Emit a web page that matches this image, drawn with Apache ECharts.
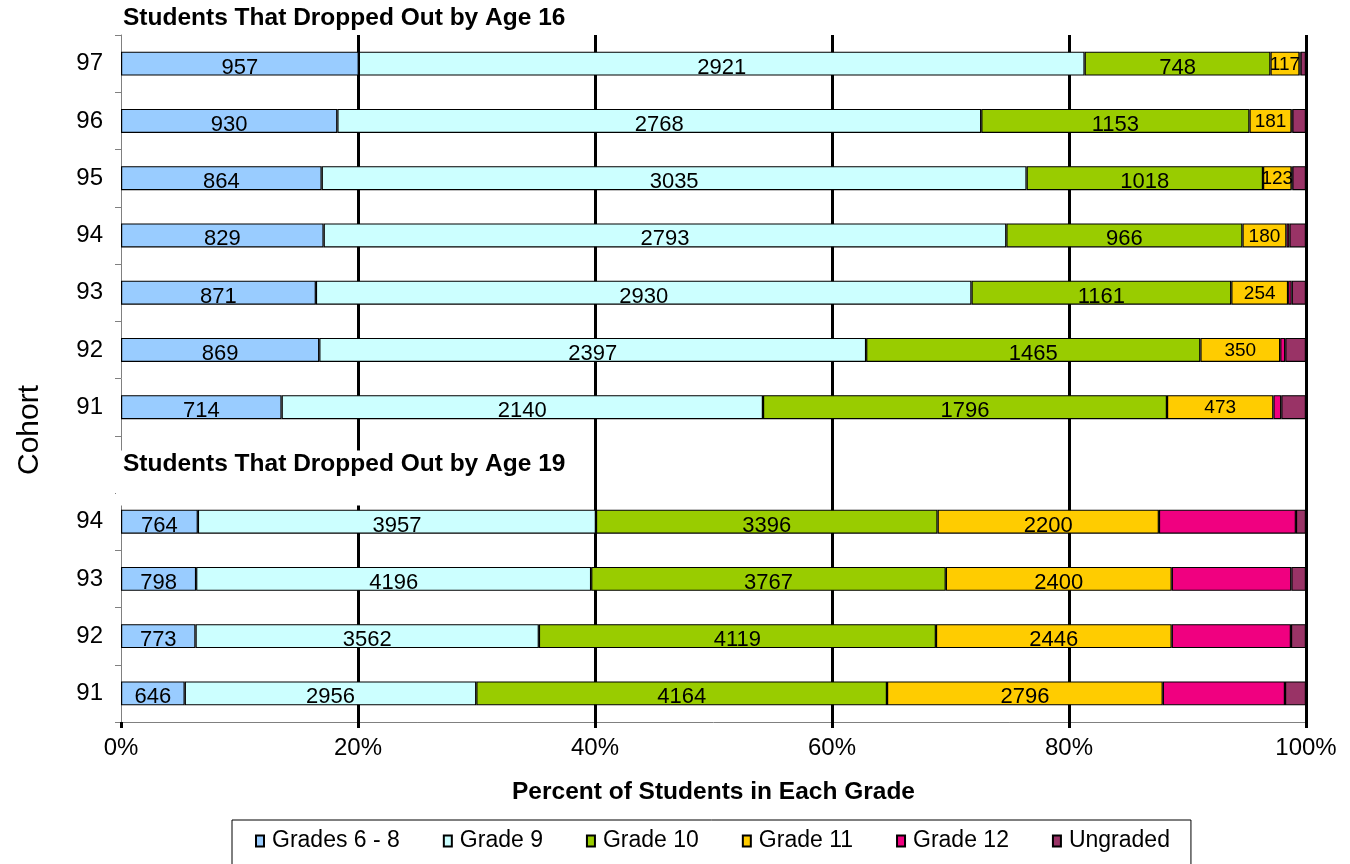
<!DOCTYPE html>
<html>
<head>
<meta charset="utf-8">
<script src="https://cdn.jsdelivr.net/npm/echarts@6/dist/echarts.min.js"></script>
<style>
  html, body { margin: 0; padding: 0; background: #fff; }
  #chart { width: 1350px; height: 864px; }
</style>
</head>
<body>
<div id="chart"></div>
<script>
// Categories listed bottom to top; '' is the spacer row between the two groups
const cohorts = ['91', '92', '93', '94', '', '91', '92', '93', '94', '95', '96', '97'];
// group of each row: 19 = dropped out by age 19, 16 = by age 16, 0 = spacer
const rowGroup = [19, 19, 19, 19, 0, 16, 16, 16, 16, 16, 16, 16];

const seriesNames = ['Grades 6 - 8', 'Grade 9', 'Grade 10', 'Grade 11', 'Grade 12', 'Ungraded'];

const grades6to8 = [646, 773, 798, 764, null, 714, 869, 871, 829, 864, 930, 957];
const grade9     = [2956, 3562, 4196, 3957, null, 2140, 2397, 2930, 2793, 3035, 2768, 2921];
const grade10    = [4164, 4119, 3767, 3396, null, 1796, 1465, 1161, 966, 1018, 1153, 748];
const grade11    = [2796, 2446, 2400, 2200, null, 473, 350, 254, 180, 123, 181, 117];
const grade12    = [1239, 1237, 1270, 1362, null, 35, 22, 16, 12, 3, 3, 4];      // estimated (unlabelled)
const ungraded   = [213, 156, 156, 100, null, 110, 91, 64, 68, 59, 59, 22];        // estimated (unlabelled)

const xTicks = [0, 20, 40, 60, 80, 100];

const counts = [grades6to8, grade9, grade10, grade11, grade12, ungraded];
const colors = ['#99CCFF', '#CCFFFF', '#99CC00', '#FFCC00', '#F00080', '#993366'];
const labelled = [true, true, true, true, false, false];

const totals = cohorts.map((c, i) => {
  if (grades6to8[i] == null) return null;
  return counts.reduce((s, arr) => s + arr[i], 0);
});

const FONT = 'Liberation Sans, Arial, sans-serif';

const series = counts.map((arr, si) => ({
  name: seriesNames[si],
  type: 'bar',
  stack: 'total',
  barWidth: 24,
  itemStyle: { color: colors[si], borderColor: '#000', borderWidth: 1.2 },
  label: {
    show: labelled[si],
    position: 'inside',
    color: '#000',
    fontFamily: FONT,
    fontSize: 22,
    offset: [0, 4],
    formatter: p => (arr[p.dataIndex] == null ? '' : String(arr[p.dataIndex]))
  },
  data: arr.map((v, i) => {
    if (v == null) return null;
    const item = { value: v / totals[i] * 100 };
    if (si === 3 && rowGroup[i] === 16) {
      item.label = { fontSize: 19, offset: [0, 1] };
    }
    return item;
  })
}));

const option = {
  backgroundColor: '#fff',
  animation: false,
  textStyle: { fontFamily: FONT },
  title: [
    {
      text: 'Students That Dropped Out by Age 16',
      left: 116, top: 5,
      padding: [1, 19, 1, 7],
      textStyle: { fontFamily: FONT, fontSize: 24.5, fontWeight: 'bold', color: '#000', lineHeight: 24 }
    },
    {
      text: 'Students That Dropped Out by Age 19',
      left: 116, top: 451,
      padding: [1, 19, 29, 7],
      backgroundColor: '#fff',
      textStyle: { fontFamily: FONT, fontSize: 24.5, fontWeight: 'bold', color: '#000', lineHeight: 24 }
    }
  ],
  legend: {
    left: 232, top: 820,
    orient: 'horizontal',
    icon: 'rect',
    itemWidth: 8, itemHeight: 11,
    itemGap: 43,
    padding: [9, 21, 40, 23],
    borderColor: '#000', borderWidth: 1,
    textStyle: { fontFamily: FONT, fontSize: 23, color: '#000', lineHeight: 24, padding: [0, 0, 0, 3] },
    data: seriesNames
  },
  grid: { left: 121, right: 44, top: 35, bottom: 142 },
  xAxis: {
    type: 'value',
    min: xTicks[0], max: xTicks[xTicks.length - 1], interval: 20,
    name: 'Percent of Students in Each Grade',
    nameLocation: 'middle',
    nameGap: 58,
    nameTextStyle: { fontFamily: FONT, fontSize: 24.5, fontWeight: 'bold', color: '#000' },
    axisLine: { show: true, lineStyle: { color: '#808080', width: 1 } },
    axisTick: { show: true, length: 6, lineStyle: { color: '#000', width: 3 } },
    axisLabel: { fontFamily: FONT, fontSize: 24, color: '#000', margin: 14, formatter: '{value}%' },
    splitLine: { show: true, showMinLine: false, lineStyle: { color: '#000', width: 3 } }
  },
  yAxis: {
    type: 'category',
    data: cohorts,
    axisLine: { show: true, lineStyle: { color: '#808080', width: 1 } },
    axisTick: { show: true, length: 6, lineStyle: { color: '#808080', width: 1 } },
    axisLabel: { fontFamily: FONT, fontSize: 24, color: '#000', margin: 18 },
    splitLine: { show: false }
  },
  graphic: [
    {
      type: 'text',
      x: 30, y: 430,
      rotation: Math.PI / 2,
      style: { text: 'Cohort', font: '30px ' + FONT, fill: '#000', textAlign: 'center', textVerticalAlign: 'middle' }
    }
  ],
  series: series
};

const chart = echarts.init(document.getElementById('chart'), null, { renderer: 'canvas' });
chart.setOption(option);
</script>
</body>
</html>
